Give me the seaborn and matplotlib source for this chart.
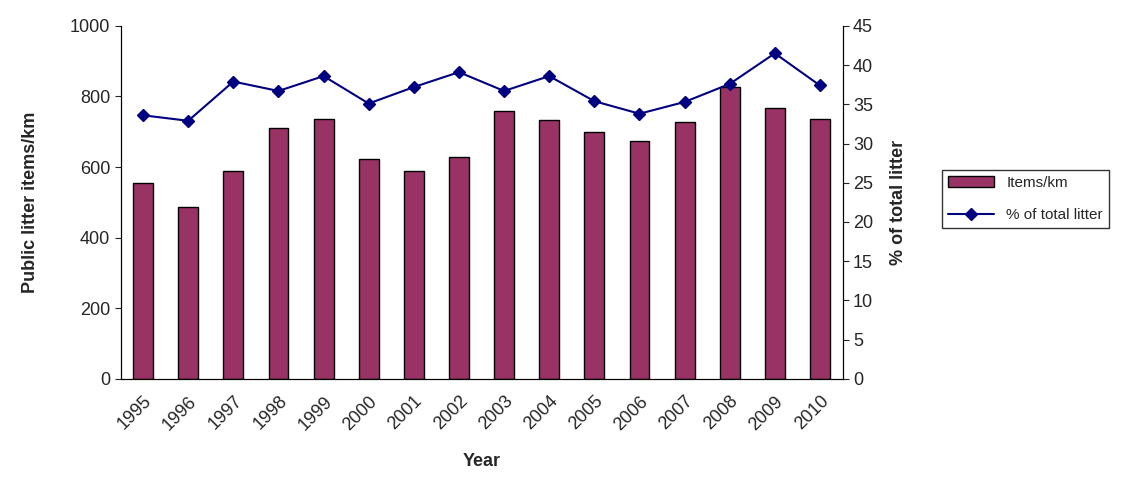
import numpy as np
import matplotlib.pyplot as plt
import seaborn as sns
import pandas as pd

years = [str(y) for y in range(1995, 2011)]
items_per_km = [555, 487, 588, 710, 737, 623, 588, 628, 760, 733, 700, 673, 727, 827, 767, 737]
pct_total = [33.6, 32.9, 37.9, 36.7, 38.6, 35.1, 37.2, 39.1, 36.7, 38.6, 35.4, 33.8, 35.3, 37.6, 41.5, 37.4]

sns.set_style('white')
plt.rcParams['font.family'] = ['Liberation Sans', 'DejaVu Sans']

df = pd.DataFrame({'Year': years, 'Items/km': items_per_km, 'pct': pct_total})

fig = plt.figure(figsize=(11.37, 4.79), dpi=100)
ax = fig.add_axes([0.106, 0.209, 0.635, 0.737])

sns.barplot(data=df, x='Year', y='Items/km', ax=ax, color='#993366',
            edgecolor='black', linewidth=1, width=0.44, saturation=1, legend=False)
ax.set_ylim(0, 1000)
ax.set_yticks(range(0, 1001, 200))
ax.set_xlim(-0.5, len(years) - 0.5)
ax.set_ylabel('Public litter items/km', fontsize=13, fontweight='bold', labelpad=22)
ax.set_xlabel('Year', fontsize=13, fontweight='bold', labelpad=14)
ax.tick_params(axis='x', rotation=45, labelsize=13, length=4, direction='out', pad=6)
ax.tick_params(axis='y', labelsize=13, length=4, direction='out')
for lbl in ax.get_xticklabels():
    lbl.set_ha('right')
    lbl.set_rotation_mode('anchor')
for s in ax.spines.values():
    s.set_color('black')
ax.spines['top'].set_visible(False)

ax2 = ax.twinx()
ax2.plot(np.arange(len(years)), df['pct'], color='#000080', marker='D', markersize=6,
         linewidth=1.5, label='% of total litter')
ax2.set_ylim(0, 45)
ax2.set_yticks(range(0, 46, 5))
ax2.set_ylabel('% of total litter', fontsize=13, fontweight='bold', labelpad=12)
ax2.tick_params(axis='y', labelsize=13, length=4, direction='out')
ax2.spines['top'].set_visible(False)
for s in ['left', 'right', 'bottom']:
    ax2.spines[s].set_color('black')

h1 = [plt.Rectangle((0, 0), 1, 1, facecolor='#993366', edgecolor='black')]
h2, l2 = ax2.get_legend_handles_labels()
leg = fig.legend(h1 + h2, ['Items/km'] + l2, loc='center left', bbox_to_anchor=(0.822, 0.585),
                 fontsize=11, frameon=True, fancybox=False, edgecolor='black',
                 handlelength=3, labelspacing=1.2)

plt.savefig('out.png', dpi=100)
